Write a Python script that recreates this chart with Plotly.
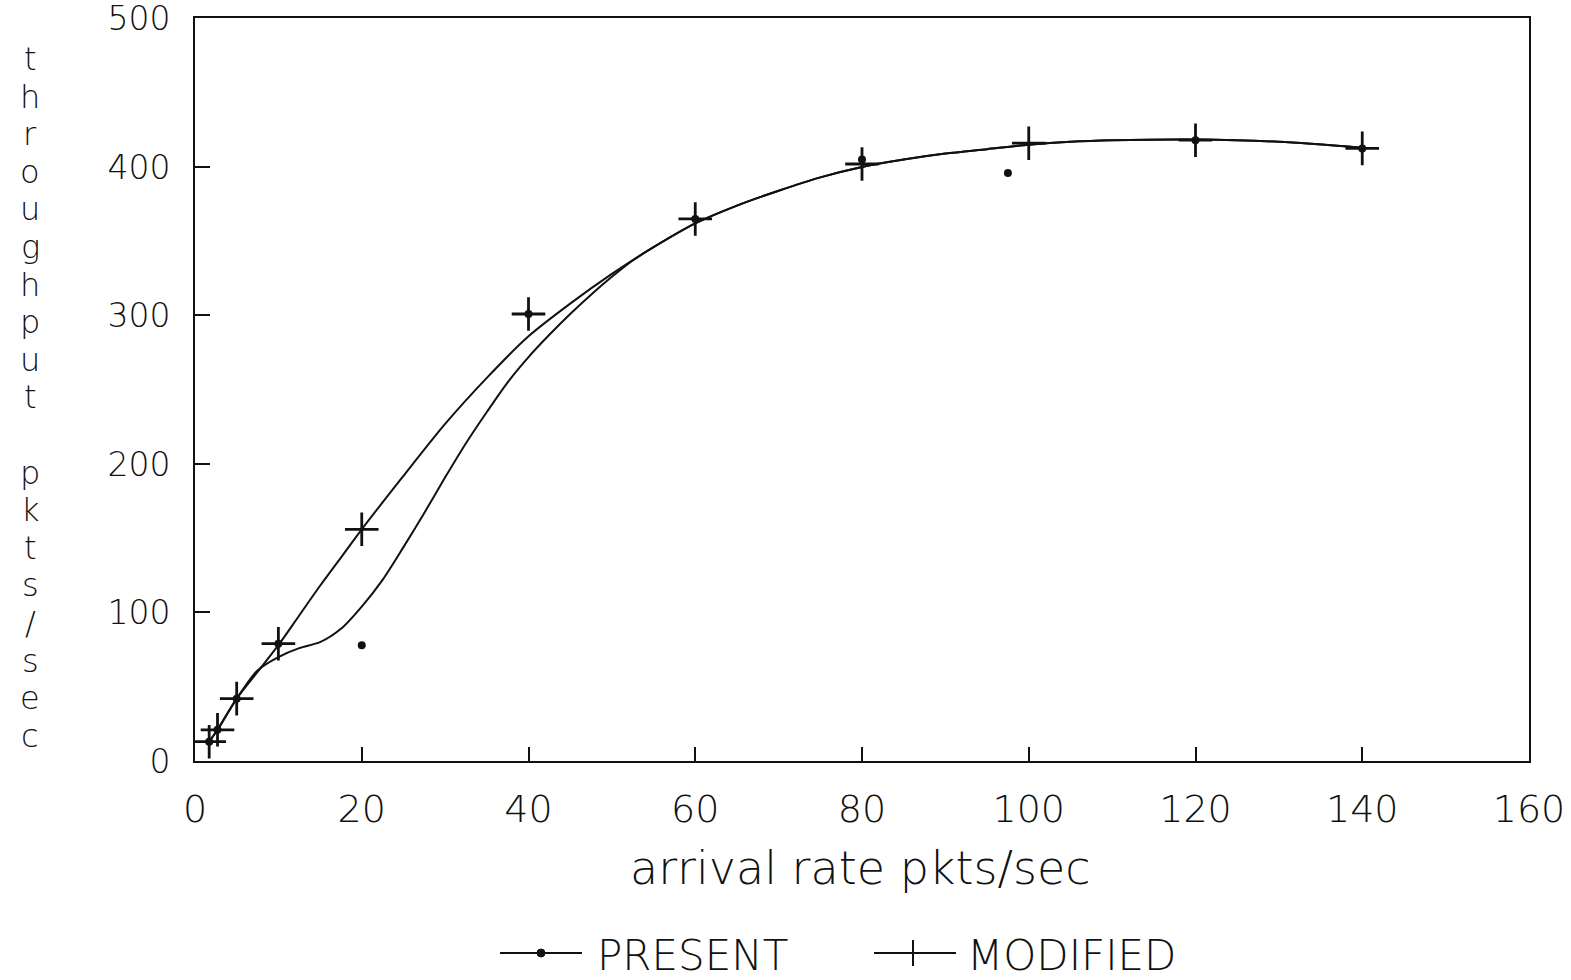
import plotly.graph_objects as go

# ---- measured points ----
modified_x = [1.7, 2.7, 5, 10, 20, 40, 60, 80, 100, 120, 140]
modified_y = [13, 21, 42, 79, 156, 301, 365, 402, 416, 418, 412.5]

present_x = [1.7, 2.7, 5, 10, 20, 40, 60, 80, 97.5, 120, 140]
present_y = [13, 21, 42, 79, 78, 301, 365, 405, 396, 418, 412.5]

# ---- fitted (smoothed) curves ----
modified_fit_x = [1.7, 2.7, 5, 7.5, 10, 12.5, 15, 17.5, 20, 25, 30, 35, 40, 45, 50,
                  55, 60, 65, 70, 75, 80, 85, 90, 95, 100, 105, 110, 120, 130, 140]
modified_fit_y = [13, 21, 42, 60, 78, 98, 118, 137, 156, 192, 227, 258, 286, 308, 328,
                  346, 362, 374, 384, 393, 400, 405, 409, 412, 415, 417, 418, 418.5, 417, 413]

present_fit_x = [1.7, 2.7, 5, 7.5, 10, 12.5, 15, 17.5, 20, 22.5, 25, 27.5, 30, 32.5, 35,
                 37.5, 40, 42.5, 45, 47.5, 50, 52.5, 55, 60, 65, 70, 75, 80, 85, 90, 95,
                 100, 105, 110, 120, 130, 140]
present_fit_y = [13, 21, 42, 61, 70, 76, 80, 89, 104, 122, 144, 167, 191, 214, 235,
                 255, 272, 287, 301, 314, 326, 337, 346, 362, 374, 384, 393, 400, 405, 409, 412,
                 415, 417, 418, 418.5, 417, 413]

x_ticks = [0, 20, 40, 60, 80, 100, 120, 140, 160]
y_ticks = [0, 100, 200, 300, 400, 500]

x_title = "arrival rate pkts/sec"
y_title = "throughput pkts/sec"
legend_names = ["PRESENT", "MODIFIED"]

INK = "#111111"
THIN = dict(family="DejaVu Sans", weight=200, color=INK)

# plot-area geometry in page pixels
W, H = 1571, 980
L, R, T, B = 195, 1529, 18, 761


def px(xp):
    return (xp - L) / (R - L)


def py(yp):
    return (B - yp) / (B - T)


fig = go.Figure()

fig.add_trace(go.Scatter(
    x=present_fit_x, y=present_fit_y, mode="lines",
    line=dict(color=INK, width=2, shape="spline", smoothing=0.8),
    showlegend=False, hoverinfo="skip"))
fig.add_trace(go.Scatter(
    x=modified_fit_x, y=modified_fit_y, mode="lines",
    line=dict(color=INK, width=2, shape="spline", smoothing=0.8),
    showlegend=False, hoverinfo="skip"))
fig.add_trace(go.Scatter(
    x=modified_x, y=modified_y, mode="markers", name=legend_names[1],
    marker=dict(symbol="cross-thin", size=24, line=dict(color=INK, width=2.8)),
    showlegend=False))
fig.add_trace(go.Scatter(
    x=present_x, y=present_y, mode="markers", name=legend_names[0],
    marker=dict(symbol="circle", size=8, color=INK),
    showlegend=False))

fig.update_xaxes(
    range=[0, 160], tickvals=x_ticks, ticktext=[str(v) for v in x_ticks],
    showline=True, mirror=True, linecolor=INK, linewidth=2,
    ticks="inside", ticklen=14, tickwidth=2, tickcolor=INK,
    showgrid=False, zeroline=False, automargin=False,
    tickfont=dict(size=38, **THIN),
    ticklabelstandoff=13, ticklabeloverflow="allow")
fig.update_yaxes(
    range=[0, 500.3], tickvals=y_ticks, ticktext=[str(v) for v in y_ticks],
    showline=True, mirror=True, linecolor=INK, linewidth=2,
    ticks="inside", ticklen=15, tickwidth=2, tickcolor=INK,
    showgrid=False, zeroline=False, automargin=False,
    tickfont=dict(size=33, **THIN),
    ticklabelstandoff=16, ticklabeloverflow="allow")

annotations = []
# x axis title
annotations.append(dict(
    text=x_title, xref="paper", yref="paper", x=px(860), y=py(868),
    xanchor="center", yanchor="middle", showarrow=False,
    font=dict(size=46, **THIN)))

# y axis title, letters stacked vertically
for i, ch in enumerate(y_title):
    if ch == " ":
        continue
    annotations.append(dict(
        text=ch, xref="paper", yref="paper", x=px(30), y=py(59 + 37.6 * i),
        xanchor="center", yanchor="middle", showarrow=False,
        font=dict(size=32, **THIN)))

# legend
leg_y = 953
annotations.append(dict(
    text=legend_names[0], xref="paper", yref="paper", x=px(595), y=py(955),
    xanchor="left", yanchor="middle", showarrow=False,
    font=dict(size=42, **THIN)))
annotations.append(dict(
    text=legend_names[1], xref="paper", yref="paper", x=px(965), y=py(955),
    xanchor="left", yanchor="middle", showarrow=False,
    font=dict(size=42, **THIN)))

shapes = [
    dict(type="line", xref="paper", yref="paper", x0=px(500), x1=px(582),
         y0=py(leg_y), y1=py(leg_y), line=dict(color=INK, width=2)),
    dict(type="circle", xref="paper", yref="paper", x0=px(537), x1=px(545),
         y0=py(leg_y + 4), y1=py(leg_y - 4), fillcolor=INK, line=dict(color=INK, width=1)),
    dict(type="line", xref="paper", yref="paper", x0=px(874), x1=px(956),
         y0=py(leg_y), y1=py(leg_y), line=dict(color=INK, width=2)),
    dict(type="line", xref="paper", yref="paper", x0=px(913), x1=px(913),
         y0=py(leg_y - 13), y1=py(leg_y + 13), line=dict(color=INK, width=2)),
]

fig.update_layout(
    width=W, height=H,
    margin=dict(l=L, r=W - R, t=T, b=H - B, pad=0, autoexpand=False),
    paper_bgcolor="white", plot_bgcolor="white",
    showlegend=False,
    annotations=annotations, shapes=shapes)

fig.write_html("out.html")
